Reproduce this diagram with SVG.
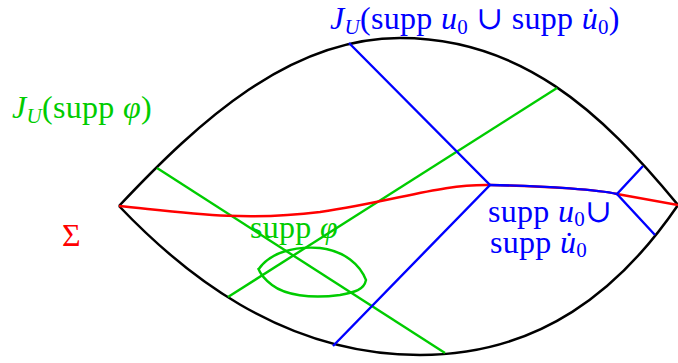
<svg xmlns="http://www.w3.org/2000/svg" width="678" height="363" viewBox="0 0 678 363">
<style>
.k{fill:none;stroke:#000;stroke-width:2.5}
.g{fill:none;stroke:#00cc00;stroke-width:2.4}
.b{fill:none;stroke:#0000ff;stroke-width:2.4}
.r{fill:none;stroke:#ff0000;stroke-width:2.5}
text{font-family:"Liberation Serif","DejaVu Serif",serif;font-size:32px;letter-spacing:0.3px}
.it{font-style:italic}
.s{font-size:21px}
.tb{fill:#0000ff}.tg{fill:#00cc00}.tr{fill:#ff0000}
</style>
<rect width="678" height="363" fill="#fff"/>
<g id="region">
<path class="k" d="M119,206 C200,120 290,38 400,38 C520,38 600,110 678,205"/>
<path class="k" d="M119,206 C180,270 280,355 420,355 C540,355 620,290 678,205"/>
</g>
<g id="connectors">
<path class="g" d="M157,168 L445,353"/>
<path class="g" d="M228,297 L557,88"/>
<path class="r" d="M119,206 C180,212 240,222 320,212 C400,200 440,184 490,185 C550,186 600,190 617,194 L678,205"/>
<path class="b" d="M349,43 L490,185 L333,346"/>
<path class="b" d="M490,185 C550,186 600,190 617,194"/>
<path class="b" d="M643,166 L617,194 L655,235"/>
<path class="g" d="M258,270 C270,252 295,246 320,248 C345,251 360,265 366,280 C364,290 355,292 340,295 C310,299 285,295 272,285 C264,279 260,273 258,268"/>
</g>
<g id="label-top"><text class="tb" x="330" y="29"><tspan class="it">J</tspan><tspan class="it s" dy="5">U</tspan><tspan dy="-5">(supp </tspan><tspan class="it">u</tspan><tspan class="s" dy="5">0</tspan><tspan dy="-5"> ∪ supp </tspan><tspan class="it">u̇</tspan><tspan class="s" dy="5">0</tspan><tspan dy="-5">)</tspan></text></g>
<g id="label-green"><text class="tg" x="12" y="118"><tspan class="it">J</tspan><tspan class="it s" dy="5">U</tspan><tspan dy="-5">(supp </tspan><tspan class="it">φ</tspan><tspan>)</tspan></text></g>
<g id="label-sigma"><text class="tr" x="62" y="246">Σ</text></g>
<g id="label-suppphi"><text class="tg" x="250" y="238">supp <tspan class="it">φ</tspan></text></g>
<g id="label-suppu"><text class="tb" x="488" y="222">supp <tspan class="it">u</tspan><tspan class="s" dy="4">0</tspan><tspan dy="-4">∪</tspan></text><text class="tb" x="490" y="253">supp <tspan class="it">u̇</tspan><tspan class="s" dy="4">0</tspan></text></g>
</svg>
